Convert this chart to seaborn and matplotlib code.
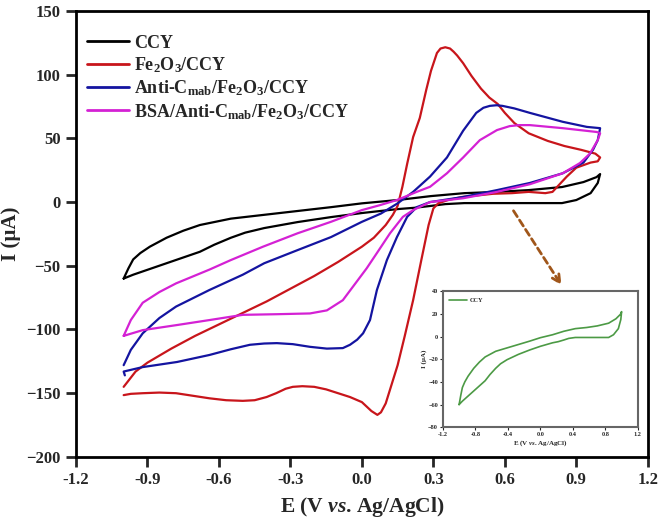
import numpy as np
import pandas as pd
import matplotlib
matplotlib.use("Agg")
import matplotlib.pyplot as plt
import seaborn as sns

# ---------------- data ----------------
labels = ["CCY", "Fe$_2$O$_3$/CCY", "Anti-C$_{\\mathrm{mab}}$/Fe$_2$O$_3$/CCY",
          "BSA/Anti-C$_{\\mathrm{mab}}$/Fe$_2$O$_3$/CCY"]
colors = ["#000000", "#c8151b", "#1414a0", "#d421d4"]

E_ccy = [-1.0, -0.98, -0.96, -0.93, -0.89, -0.82, -0.75, -0.68, -0.55, -0.41, -0.27, -0.13, 0.0,
         0.15, 0.29, 0.43, 0.57, 0.70, 0.84, 0.93, 0.985, 1.0,
         0.99, 0.96, 0.90, 0.84, 0.70, 0.57, 0.43, 0.35, 0.29, 0.22, 0.15, 0.0, -0.13,
         -0.27, -0.41, -0.49, -0.55, -0.62, -0.68, -0.75, -0.82, -0.89, -0.96, -1.0]
I_ccy = [-60, -52, -45, -40, -35, -28, -22.5, -18, -13, -10, -7, -4, -1,
         1.6, 4.7, 7, 8, 9.4, 11.8, 15.7, 19.6, 22,
         15, 7, 1.6, -0.8, -0.8, -0.8, -0.8, -1.6, -3.0, -4.5, -5.5, -8.6, -11.8,
         -15.7, -20.4, -24, -28, -33.5, -39, -43.5, -48, -52.5, -57, -60]

E_fe = [-1.0, -0.95, -0.9, -0.8, -0.7, -0.6, -0.5, -0.4, -0.3, -0.2, -0.1, 0.0, 0.05, 0.1,
        0.13, 0.15, 0.17, 0.19, 0.215, 0.243, 0.27, 0.29, 0.315, 0.33, 0.35, 0.37, 0.385,
        0.40, 0.425, 0.46, 0.5, 0.535, 0.57, 0.60, 0.64, 0.7, 0.78, 0.85, 0.92, 0.98, 1.0,
        0.99, 0.96, 0.9, 0.86, 0.83, 0.80, 0.77, 0.7, 0.63, 0.55, 0.5, 0.42, 0.36, 0.32,
        0.30, 0.28, 0.25, 0.215, 0.18, 0.15, 0.12, 0.10, 0.08, 0.065, 0.04, 0.0, -0.05,
        -0.1, -0.15, -0.2, -0.25, -0.29, -0.32, -0.36, -0.4, -0.45, -0.5, -0.57, -0.64,
        -0.71, -0.78, -0.85, -0.92, -0.97, -1.0]
I_fe = [-145, -133, -126, -115, -105, -96, -87, -78, -68, -58, -47, -35, -28, -18,
        -10, -3, 12, 30, 51, 66, 88, 103, 117, 120.5, 121.5, 120.5, 118,
        115, 109, 99, 89, 82, 77, 70, 62, 54, 48, 44, 41, 38, 35,
        32, 31, 27, 20, 14, 8, 7, 8, 7, 6.5, 5.5, 4, 1.5, -1,
        -5, -18, -45, -77, -105, -128, -146, -158, -165, -167, -164, -157, -153,
        -150, -147, -145, -144.5, -145, -146.5, -150, -153, -155.5, -156, -155.5, -154,
        -152, -150, -149.5, -150, -150.5, -151.5]

E_ab = [-1.0, -0.97, -0.92, -0.85, -0.78, -0.64, -0.5, -0.41, -0.27, -0.13, 0.0, 0.08,
        0.15, 0.215, 0.286, 0.357, 0.425, 0.48, 0.51, 0.537, 0.565, 0.59, 0.64, 0.705,
        0.843, 0.944, 1.0,
        0.99, 0.97, 0.93, 0.843, 0.705, 0.567, 0.425, 0.286, 0.23, 0.19, 0.147, 0.105,
        0.063, 0.034, 0.005, -0.02, -0.05, -0.08, -0.147, -0.218, -0.29, -0.357, -0.41,
        -0.47, -0.55, -0.64, -0.776, -0.92, -1.0, -0.995]
I_ab = [-128, -116, -103, -91, -82, -69, -57, -48, -37.7, -27.5, -15.5, -9,
        -1, 8, 20, 35, 56, 70, 74, 75.5, 76, 75.5, 73.5, 70,
        63, 59, 58,
        48.6, 41, 31, 22.6, 15, 9.4, 4, 0, -4, -11.6, -27.5, -45.5,
        -69, -92.6, -103, -108, -112, -114.6, -115, -113.6, -111.5, -110.7, -111,
        -112, -115.5, -120, -125.5, -129.5, -133, -136]

E_bsa = [-1.0, -0.97, -0.92, -0.85, -0.78, -0.64, -0.55, -0.415, -0.27, -0.13, 0.0, 0.076,
         0.147, 0.23, 0.286, 0.357, 0.425, 0.495, 0.567, 0.62, 0.66, 0.705, 0.843, 0.986,
         1.0,
         0.99, 0.957, 0.915, 0.843, 0.705, 0.567, 0.425, 0.286, 0.215, 0.172, 0.118, 0.063,
         0.02, -0.02, -0.08, -0.147, -0.218, -0.357, -0.5, -0.64, -0.776, -0.92, -1.0]
I_bsa = [-105, -92.6, -79, -70.6, -63.8, -53, -45.5, -35, -24.5, -15.5, -6.3, -2.4,
         1.6, 8, 12, 22.6, 35, 48.6, 56.5, 59.6, 60.4, 60.4, 58, 55,
         54,
         48.6, 38, 30.6, 22.6, 14, 8, 3, 0, -6.3, -11.6, -24.5, -40,
         -52, -62, -77, -85, -87.4, -88, -88.5, -92.6, -96.5, -100.5, -105]

xticks_main = [-1.2, -0.9, -0.6, -0.3, 0.0, 0.3, 0.6, 0.9, 1.2]
yticks_main = [-200, -150, -100, -50, 0, 50, 100, 150]
xticks_inset = [-1.2, -0.8, -0.4, 0.0, 0.4, 0.8, 1.2]
yticks_inset = [-80, -60, -40, -20, 0, 20, 40]

# ---------------- frame ----------------
frames = []
for lab, e, i in zip(labels, [E_ccy, E_fe, E_ab, E_bsa], [I_ccy, I_fe, I_ab, I_bsa]):
    frames.append(pd.DataFrame({"E": e, "I": i, "series": lab, "idx": np.arange(len(e))}))
df = pd.concat(frames, ignore_index=True)
df_inset = frames[0]

sns.set_style("ticks")
plt.rcParams["font.family"] = ["Liberation Serif", "DejaVu Serif"]
plt.rcParams["font.weight"] = "bold"
plt.rcParams["mathtext.fontset"] = "custom"
plt.rcParams["mathtext.rm"] = "Liberation Serif:bold"
plt.rcParams["mathtext.bf"] = "Liberation Serif:bold"
plt.rcParams["mathtext.it"] = "Liberation Serif:italic:bold"

fig = plt.figure(figsize=(6.61, 5.21), dpi=100)
ax = fig.add_axes([0.115, 0.123, 0.865, 0.856])

sns.lineplot(data=df, x="E", y="I", hue="series", hue_order=labels, palette=colors,
             sort=False, estimator=None, units="series", lw=1.6, ax=ax)

ax.set_xlim(-1.2, 1.2)
ax.set_ylim(-200, 150)
ax.set_xticks(xticks_main)
ax.set_xticklabels([f"{v:.1f}" for v in xticks_main])
ax.set_yticks(yticks_main)
ax.tick_params(labelsize=12, width=2, length=7, direction="out", pad=4)
for lab in ax.get_xticklabels() + ax.get_yticklabels():
    lab.set_fontweight("bold")
for s in ax.spines.values():
    s.set_linewidth(2)
    s.set_color("black")
ax.set_xlabel("E (V $\\mathit{vs}$. Ag/AgCl)", fontsize=15.5, fontweight="bold", labelpad=5)
ax.set_ylabel("I (\u00b5A)", fontsize=15, fontweight="bold", labelpad=4)

handles, _ = ax.get_legend_handles_labels()
leg = ax.legend(handles, labels, loc="upper left", bbox_to_anchor=(0.02, 0.947),
                frameon=False, fontsize=13, handlelength=2.3, handletextpad=0.3,
                labelspacing=0.2, borderaxespad=0, borderpad=0)
for t in leg.get_texts():
    t.set_fontweight("bold")
for h in leg.get_lines():
    h.set_linewidth(2)

# arrow
ax.annotate("", xy=(0.844, -67), xytext=(0.63, -5),
            arrowprops=dict(arrowstyle="->", linestyle=(0, (2.5, 1.5)), color="#a0561a",
                            lw=2, mutation_scale=14))

# ---------------- inset ----------------
axi = fig.add_axes([0.670, 0.180, 0.295, 0.261])
sns.lineplot(data=df_inset, x="E", y="I", sort=False, estimator=None, color="#4c9a45",
             lw=1.2, ax=axi, label="CCY")
axi.set_xlim(-1.2, 1.2)
axi.set_ylim(-80, 40)
axi.set_xticks(xticks_inset)
axi.set_xticklabels([f"{v:.1f}" for v in xticks_inset])
axi.set_yticks(yticks_inset)
axi.tick_params(labelsize=4.5, width=0.8, length=2, pad=1.5)
for s in axi.spines.values():
    s.set_linewidth(1.5)
    s.set_color("#666666")
axi.set_xlabel("E (V $\\mathit{vs}$. Ag/AgCl)", fontsize=5, fontweight="bold", labelpad=1)
axi.set_ylabel("I (\u00b5A)", fontsize=5, fontweight="bold", labelpad=1)
li = axi.legend(loc="upper left", bbox_to_anchor=(0.03, 0.95), frameon=False, fontsize=4.5,
                handlelength=3, handletextpad=0.4, borderaxespad=0, borderpad=0)

fig.savefig("out.png", dpi=100)
